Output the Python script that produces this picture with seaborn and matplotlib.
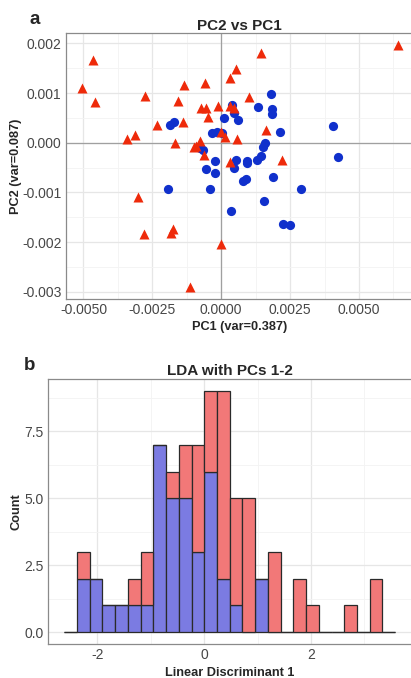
import numpy as np
import pandas as pd
import matplotlib
matplotlib.use("Agg")
import matplotlib.pyplot as plt
from matplotlib.ticker import MultipleLocator, StrMethodFormatter
import seaborn as sns

# Panel a: PCA scores
# group A = red triangles, group B = blue circles
pc1_a = [0.00642, -0.00467, -0.00507, -0.00457, -0.00277, -0.00136, -0.00058, 0.00146,
         0.00055, 0.00032, 0.00099, -0.00158, -0.00072, -0.00056, -0.00010, 0.00032,
         0.00045, -0.00049, -0.00232, -0.00139, -0.00342, -0.00313, -0.00168, -0.00076,
         -0.00090, -0.00100, 0.00000, 0.00015, 0.00056, 0.00162, 0.00219, -0.00062,
         0.00032, -0.00303, -0.00279, -0.00184, -0.00174, -0.00001, -0.00112]
pc2_a = [0.00196, 0.00166, 0.00110, 0.00083, 0.00095, 0.00116, 0.00120, 0.00180,
         0.00148, 0.00130, 0.00092, 0.00085, 0.00069, 0.00071, 0.00075, 0.00074,
         0.00071, 0.00051, 0.00035, 0.00041, 0.00008, 0.00015, 0.00000, 0.00003,
         -0.00007, -0.00008, 0.00021, 0.00012, 0.00007, 0.00026, -0.00034, -0.00025,
         -0.00039, -0.00109, -0.00184, -0.00181, -0.00173, -0.00204, -0.00290]
pc1_b = [0.00180, 0.00135, 0.00184, 0.00184, 0.00040, 0.00045, 0.00011, 0.00061,
         -0.00187, -0.00170, -0.00033, -0.00015, 0.00004, 0.00214, 0.00406, 0.00423,
         0.00157, 0.00153, -0.00076, 0.00143, 0.00130, 0.00092, 0.00052, -0.00021,
         -0.00056, -0.00022, 0.00047, 0.00091, 0.00078, 0.00187, -0.00040, -0.00195,
         0.00289, 0.00154, 0.00034, 0.00223, 0.00251, -0.00067, 0.00094]
pc2_b = [0.00099, 0.00073, 0.00067, 0.00057, 0.00077, 0.00059, 0.00050, 0.00046,
         0.00036, 0.00042, 0.00020, 0.00021, 0.00019, 0.00021, 0.00033, -0.00028,
         0.00000, -0.00009, -0.00011, -0.00027, -0.00034, -0.00036, -0.00035, -0.00036,
         -0.00052, -0.00061, -0.00050, -0.00072, -0.00077, -0.00068, -0.00093, -0.00093,
         -0.00093, -0.00117, -0.00138, -0.00164, -0.00165, -0.00015, -0.00040]

# Panel b: LDA histogram, counts per bin
lda_bin_first = -2.621
lda_bin_width = 0.2383
lda_counts_b = [0, 2, 2, 1, 1, 1, 1, 7, 5, 5, 3, 6, 2, 1, 0, 2, 0, 0, 0, 0, 0, 0, 0, 0, 0, 0]
lda_counts_a = [0, 1, 0, 0, 0, 1, 2, 0, 1, 2, 4, 3, 7, 4, 5, 0, 3, 0, 2, 1, 0, 0, 1, 0, 2, 0]

group_names = ["A", "B"]
point_colors = {"A": "#ee2a0a", "B": "#1030cc"}
bar_colors = {"A": "#f27878", "B": "#7b7be2"}

sns.set_theme(style="white")
plt.rcParams["font.family"] = ["Liberation Sans", "DejaVu Sans"]
plt.rcParams["axes.unicode_minus"] = False

W, H = 411, 678
fig = plt.figure(figsize=(W / 100, H / 100), dpi=100)


def box(left, top, right, bottom):
    return [left / W, 1 - bottom / H, (right - left) / W, (bottom - top) / H]


ax1 = fig.add_axes(box(65.7, 33.3, 414, 299))
ax2 = fig.add_axes(box(47.7, 379.3, 411.7, 644.3))


def ggplot_look(ax):
    ax.set_facecolor("white")
    for sp in ax.spines.values():
        sp.set_color("#8a8a8a")
        sp.set_linewidth(0.9)
    ax.grid(which="major", color="#e6e6e6", linewidth=0.9)
    ax.grid(which="minor", color="#f3f3f3", linewidth=0.6)
    ax.set_axisbelow(True)
    ax.tick_params(which="major", length=2, width=0.8, color="#555555",
                   labelcolor="#474747", labelsize=10, pad=1)
    ax.tick_params(which="minor", length=0)


def expand(lo, hi, frac=0.05):
    pad = (hi - lo) * frac
    return lo - pad, hi + pad


# ---- panel a
pca = pd.concat([
    pd.DataFrame({"PC1": pc1_b, "PC2": pc2_b, "group": "B"}),
    pd.DataFrame({"PC1": pc1_a, "PC2": pc2_a, "group": "A"}),
])
ggplot_look(ax1)
ax1.axhline(0, color="#a0a0a0", linewidth=0.9, zorder=1)
ax1.axvline(0, color="#a0a0a0", linewidth=0.9, zorder=1)
sns.scatterplot(data=pca[pca.group == "B"], x="PC1", y="PC2", color=point_colors["B"],
                marker="o", s=44, linewidth=0, ax=ax1, zorder=3)
sns.scatterplot(data=pca[pca.group == "A"], x="PC1", y="PC2", color=point_colors["A"],
                marker="^", s=52, linewidth=0, ax=ax1, zorder=4)
ax1.set_xlim(*expand(pca.PC1.min(), pca.PC1.max()))
ax1.set_ylim(*expand(pca.PC2.min(), pca.PC2.max()))
ax1.xaxis.set_major_locator(MultipleLocator(0.0025))
ax1.xaxis.set_minor_locator(MultipleLocator(0.00125))
ax1.yaxis.set_major_locator(MultipleLocator(0.001))
ax1.yaxis.set_minor_locator(MultipleLocator(0.0005))
ax1.xaxis.set_major_formatter(StrMethodFormatter("{x:.4f}"))
ax1.yaxis.set_major_formatter(StrMethodFormatter("{x:.3f}"))
ax1.set_xlabel("PC1 (var=0.387)", fontsize=9.2, fontweight="bold", labelpad=3)
ax1.set_ylabel("PC2 (var=0.087)", fontsize=9.2, fontweight="bold")
ax1.yaxis.set_label_coords(-0.125, 0.5)
ax1.set_title("PC2 vs PC1", fontsize=11, fontweight="bold", pad=2.5)

# ---- panel b
n_bins = len(lda_counts_a)
edges = lda_bin_first + lda_bin_width * np.arange(n_bins + 1)
centers = (edges[:-1] + edges[1:]) / 2
lda = pd.concat([
    pd.DataFrame({"LD1": centers, "count": lda_counts_a, "group": "A"}),
    pd.DataFrame({"LD1": centers, "count": lda_counts_b, "group": "B"}),
])
ggplot_look(ax2)
sns.histplot(data=lda, x="LD1", weights="count", hue="group", hue_order=group_names,
             multiple="stack", bins=list(edges), palette=bar_colors, alpha=1,
             edgecolor="#2a2a2a", linewidth=0.9, legend=False, ax=ax2, zorder=3)
totals = np.array(lda_counts_a) + np.array(lda_counts_b)
ax2.set_xlim(*expand(edges[0], edges[-1]))
ax2.set_ylim(*expand(0, totals.max()))
ax2.xaxis.set_major_locator(MultipleLocator(2))
ax2.xaxis.set_minor_locator(MultipleLocator(1))
ax2.yaxis.set_major_locator(MultipleLocator(2.5))
ax2.yaxis.set_minor_locator(MultipleLocator(1.25))
ax2.xaxis.set_major_formatter(StrMethodFormatter("{x:.0f}"))
ax2.yaxis.set_major_formatter(StrMethodFormatter("{x:.1f}"))
ax2.set_xlabel("Linear Discriminant 1", fontsize=9.2, fontweight="bold", labelpad=3)
ax2.set_ylabel("Count", fontsize=9.2, fontweight="bold")
ax2.yaxis.set_label_coords(-0.07, 0.5)
ax2.set_title("LDA with PCs 1-2", fontsize=11, fontweight="bold", pad=3)

fig.text(35 / W, 1 - 20 / H, "a", fontsize=13.5, fontweight="bold", ha="center", va="center")
fig.text(30 / W, 1 - 365 / H, "b", fontsize=13.5, fontweight="bold", ha="center", va="center")

fig.savefig("out.png", dpi=100)
